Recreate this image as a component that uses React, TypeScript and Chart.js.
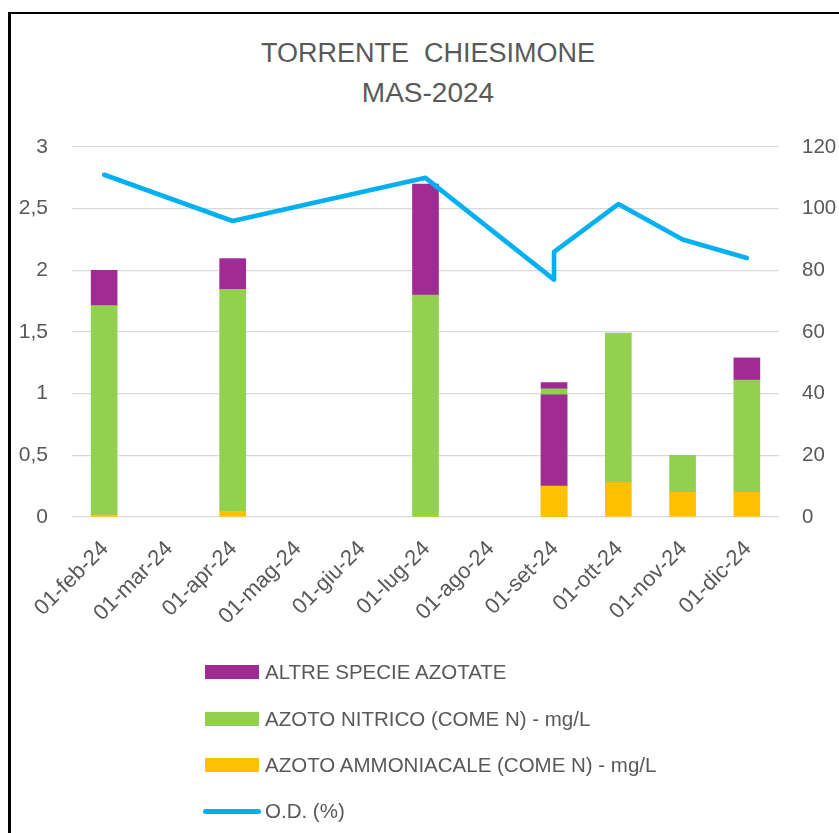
import React, { useEffect, useRef } from "react";
import { Chart, registerables } from "chart.js";

Chart.register(...registerables);

// Month categories of the date axis
const months = [
  "01-feb-24", "01-mar-24", "01-apr-24", "01-mag-24", "01-giu-24", "01-lug-24",
  "01-ago-24", "01-set-24", "01-ott-24", "01-nov-24", "01-dic-24",
];

// First sample of each month (mg/L)
const ammoniacale = [0.015, null, 0.045, null, null, 0, null, 0.25, 0.28, 0.2, 0.2];
const nitrico = [1.7, null, 1.8, null, null, 1.8, null, 0.79, 1.21, 0.3, 0.91];
const altre = [0.285, null, 0.25, null, null, 0.9, null, 0.05, 0, 0, 0.18];

// Second sample taken in September (drawn over the first one)
const ammoniacaleB = [null, null, null, null, null, null, null, 0.25, null, null, null];
const nitricoB = [null, null, null, null, null, null, null, 0, null, null, null];
const altreB = [null, null, null, null, null, null, null, 0.74, null, null, null];

// O.D. (%) samples
const odDates = ["01-feb-24", "01-apr-24", "01-lug-24", "01-set-24", "01-set-24", "01-ott-24", "01-nov-24", "01-dic-24"];
const odValues = [111, 96, 110, 77, 86, 101.5, 90, 84];

// Axis ticks
const leftMax = 3;
const leftStep = 0.5;
const rightMax = 120;
const rightStep = 20;

const PURPLE = "#A02B93";
const GREEN = "#92D050";
const YELLOW = "#FFC000";
const BLUE = "#00B0F0";
const TEXT = "#595959";
const FONT = "'Liberation Sans', Arial, sans-serif";

const legendItems = [
  { label: "ALTRE SPECIE AZOTATE", color: PURPLE, kind: "box" },
  { label: "AZOTO NITRICO (COME N) - mg/L", color: GREEN, kind: "box" },
  { label: "AZOTO AMMONIACALE (COME N) - mg/L", color: YELLOW, kind: "box" },
  { label: "O.D. (%)", color: BLUE, kind: "line" },
];

export default function App() {
  const ref = useRef<HTMLCanvasElement | null>(null);

  useEffect(() => {
    if (!ref.current) return;
    const barCommon = { barThickness: 26, borderWidth: 0, grouped: false };
    const chart = new Chart(ref.current, {
      type: "bar",
      data: {
        labels: months,
        datasets: [
          { label: "AZOTO AMMONIACALE (COME N) - mg/L", data: ammoniacale, backgroundColor: YELLOW, xAxisID: "x", yAxisID: "y", order: 3, ...barCommon },
          { label: "AZOTO NITRICO (COME N) - mg/L", data: nitrico, backgroundColor: GREEN, xAxisID: "x", yAxisID: "y", order: 4, ...barCommon },
          { label: "ALTRE SPECIE AZOTATE", data: altre, backgroundColor: PURPLE, xAxisID: "x", yAxisID: "y", order: 5, ...barCommon },
          { label: "AZOTO AMMONIACALE (COME N) - mg/L B", data: ammoniacaleB, backgroundColor: YELLOW, xAxisID: "x2", yAxisID: "y", order: 1, ...barCommon },
          { label: "AZOTO NITRICO (COME N) - mg/L B", data: nitricoB, backgroundColor: GREEN, xAxisID: "x2", yAxisID: "y", order: 1.5, ...barCommon },
          { label: "ALTRE SPECIE AZOTATE B", data: altreB, backgroundColor: PURPLE, xAxisID: "x2", yAxisID: "y", order: 2, ...barCommon },
          {
            type: "line",
            label: "O.D. (%)",
            data: odDates.map((d, i) => ({ x: d, y: odValues[i] })) as any,
            borderColor: BLUE,
            backgroundColor: BLUE,
            borderWidth: 4.6,
            pointRadius: 0,
            tension: 0,
            borderJoinStyle: "round",
            borderCapStyle: "round",
            xAxisID: "x",
            yAxisID: "y2",
            order: 0,
          } as any,
        ] as any,
      },
      options: {
        animation: false,
        responsive: false,
        maintainAspectRatio: false,
        layout: { padding: { top: 147, left: 0, right: 0, bottom: 0 } },
        plugins: { legend: { display: false }, title: { display: false }, tooltip: { enabled: false } },
        scales: {
          x: {
            type: "category",
            stacked: true,
            offset: true,
            grid: { display: false, drawTicks: false },
            border: { display: false },
            ticks: {
              autoSkip: false,
              minRotation: 45,
              maxRotation: 45,
              color: TEXT,
              font: { family: FONT, size: 22 },
              padding: 19,
              labelOffset: 1,
            },
            afterFit: (s: any) => { s.height = 316; },
          },
          x2: {
            type: "category",
            display: false,
            stacked: true,
            offset: true,
            grid: { display: false },
          },
          y: {
            position: "left",
            stacked: true,
            min: 0,
            max: leftMax,
            grid: { color: "#D9D9D9", lineWidth: 1.3, drawTicks: false },
            border: { display: false },
            ticks: {
              stepSize: leftStep,
              color: TEXT,
              font: { family: FONT, size: 21 },
              padding: 24,
              callback: (v: any) => String(v).replace(".", ","),
            },
            afterFit: (s: any) => { s.width = 72; },
          },
          y2: {
            position: "right",
            min: 0,
            max: rightMax,
            grid: { display: false, drawTicks: false },
            border: { display: false },
            ticks: {
              stepSize: rightStep,
              color: TEXT,
              font: { family: FONT, size: 20.5 },
              padding: 23,
            },
            afterFit: (s: any) => { s.width = 60; },
          },
        },
      },
    });
    return () => chart.destroy();
  }, []);

  return (
    <div style={{ position: "absolute", left: 0, top: 0, width: 839, height: 833, overflow: "hidden", background: "#fff", fontFamily: FONT }}>
      <div style={{ position: "absolute", left: 8, top: 12, width: 1000, height: 1000, borderLeft: "3px solid #000", borderTop: "2px solid #000", boxSizing: "border-box" }} />
      <div style={{ position: "absolute", left: 0, width: 856, top: 34, height: 39, lineHeight: "39px", textAlign: "center", fontSize: 27, color: TEXT, whiteSpace: "pre" }}>TORRENTE  CHIESIMONE</div>
      <div style={{ position: "absolute", left: 0, width: 856, top: 73, height: 39, lineHeight: "39px", textAlign: "center", fontSize: 28, color: TEXT }}>MAS-2024</div>
      <canvas ref={ref} width={839} height={833} style={{ position: "absolute", left: 0, top: 0, width: 839, height: 833 }} />
      {legendItems.map((it, i) => {
        const cy = [672, 719, 765, 811][i];
        return (
          <div key={it.label}>
            {it.kind === "box" ? (
              <div style={{ position: "absolute", left: 205, top: cy - 7, width: 54, height: 14, background: it.color }} />
            ) : (
              <div style={{ position: "absolute", left: 203, top: cy - 2.5, width: 58, height: 5, borderRadius: 3, background: it.color }} />
            )}
            <div style={{ position: "absolute", left: 265, top: cy - 15, height: 30, lineHeight: "30px", fontSize: 20.5, color: TEXT, whiteSpace: "nowrap" }}>{it.label}</div>
          </div>
        );
      })}
    </div>
  );
}
